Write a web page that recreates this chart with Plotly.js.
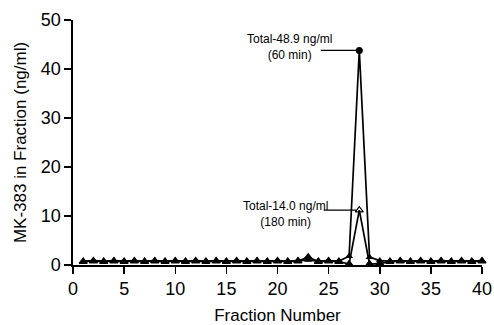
<!DOCTYPE html>
<html><head><meta charset="utf-8">
<script src="https://cdn.plot.ly/plotly-3.0.1.min.js"></script>
<style>html,body{margin:0;padding:0;background:#fff}#c{width:494px;height:325px}</style>
</head><body><div id="c"></div>
<script>
const fractions = Array.from({length: 40}, (_, i) => i + 1);
const min60 = [0.8,0.9,0.8,0.9,0.8,0.9,0.8,0.9,0.8,0.9,0.8,0.9,0.8,0.9,0.8,0.9,0.8,0.9,0.8,0.9,0.8,0.9,1.0,0.8,0.9,0.8,1.8,43.8,1.6,0.9,0.8,0.9,0.8,0.9,0.8,0.9,0.8,0.9,0.8,0.9];
const min180 = [0.7,0.8,0.7,0.8,0.7,0.8,0.7,0.8,0.7,0.8,0.7,0.8,0.7,0.8,0.7,0.8,0.7,0.8,0.7,0.8,0.7,0.8,1.6,0.7,0.8,0.7,0.2,11.2,0.2,0.3,0.7,0.8,0.7,0.8,0.7,0.8,0.7,0.8,0.7,0.8];
const xTicks = [0,5,10,15,20,25,30,35,40];
const yTicks = [0,10,20,30,40,50];
const labels = ["Total-48.9 ng/ml<br>(60 min)", "Total-14.0 ng/ml<br>(180 min)"];

const sym60 = fractions.map((f,i)=> i===27 ? 'circle' : 'triangle-up');
const sym180 = fractions.map((f,i)=> i===27 ? 'triangle-up-open' : 'triangle-up');

const data = [
  {x: fractions, y: min180, mode: 'lines+markers', line:{color:'#000', width:1.7},
   marker:{symbol: sym180, size:7, color:'#000', line:{color:'#000', width:1.2}}, showlegend:false, cliponaxis:false},
  {x: fractions, y: min60, mode: 'lines+markers', line:{color:'#000', width:1.7},
   marker:{symbol: sym60, size:7, color:'#000'}, showlegend:false, cliponaxis:false}
];
const fam = 'Liberation Sans, Arial, sans-serif';
const annFont = {size:12, family:fam, color:'#000'};
const layout = {
  width: 494, height: 325,
  margin: {l:73, r:12, t:20, b:60},
  paper_bgcolor:'#fff', plot_bgcolor:'#fff',
  font: {family: fam, color:'#000'},
  xaxis: {range:[0,40], tickvals:xTicks, ticks:'outside', ticklen:7, tickwidth:1.5, tickcolor:'#000',
    showline:true, linecolor:'#000', linewidth:1.7, showgrid:false, zeroline:false,
    tickfont:{size:18, family:fam, color:'#000'},
    title:{text:'Fraction Number', font:{size:17, family:fam, color:'#000'}, standoff:13}},
  yaxis: {range:[0,50], tickvals:yTicks, ticks:'outside', ticklen:7, tickwidth:1.5, tickcolor:'#000',
    showline:true, linecolor:'#000', linewidth:1.7, showgrid:false, zeroline:false,
    tickfont:{size:18, family:fam, color:'#000'},
    title:{text:'MK-383 in Fraction (ng/ml)', font:{size:17, family:fam, color:'#000'}, standoff:10}},
  annotations: [
    {x:28, y:min60[27], xref:'x', yref:'y', text:'', showarrow:true, arrowhead:0, arrowwidth:1.3,
     arrowcolor:'#000', ax:-40, ay:0, standoff:3},
    {x:28, y:min60[27], xref:'x', yref:'y', text:labels[0], showarrow:false, xshift:-70, yshift:3,
     align:'center', font:annFont},
    {x:28, y:min180[27], xref:'x', yref:'y', text:'', showarrow:true, arrowhead:0, arrowwidth:1.3,
     arrowcolor:'#000', ax:-37, ay:0, standoff:3},
    {x:28, y:min180[27], xref:'x', yref:'y', text:labels[1], showarrow:false, xshift:-74, yshift:-4,
     align:'center', font:annFont}
  ]
};
Plotly.newPlot('c', data, layout, {displayModeBar:false, staticPlot:true});
</script></body></html>
